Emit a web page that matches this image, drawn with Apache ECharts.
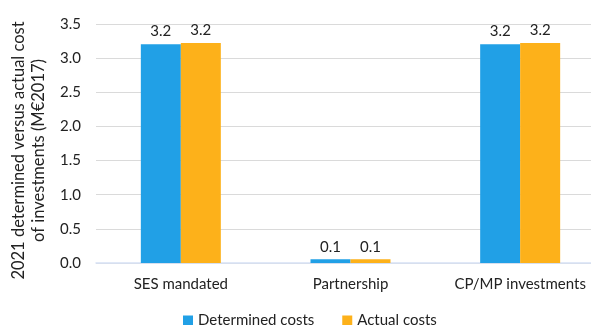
<!DOCTYPE html>
<html><head><meta charset="utf-8">
<script src="https://cdn.jsdelivr.net/npm/echarts@6/dist/echarts.min.js"></script>
<style>html,body{margin:0;padding:0;background:#fff}#c{width:591px;height:325px}</style>
</head><body><div id="c"></div>
<script>
const categories = ["SES mandated", "Partnership", "CP/MP investments"];
const determinedCosts = [3.205, 0.055, 3.205];
const actualCosts = [3.22, 0.055, 3.22];
const seriesNames = ["Determined costs", "Actual costs"];
const yTitle = "2021 determined versus actual cost\nof investments (M€2017)";

const font = "Lato, 'Open Sans', sans-serif";
const chart = echarts.init(document.getElementById('c'));
const lbl = {show: true, position: 'top', distance: 5, color: '#222', fontSize: 15, fontFamily: font,
  formatter: p => p.value.toFixed(1)};
chart.setOption({
  animation: false,
  textStyle: {fontFamily: font},
  grid: {left: 96, top: 24, width: 509, bottom: 62, outerBoundsMode: 'none', containLabel: false},
  legend: {bottom: -8, left: 178, itemWidth: 10, itemHeight: 10, itemGap: 28, icon: 'rect',
    textStyle: {fontSize: 15, color: '#222', fontFamily: font}, data: seriesNames},
  xAxis: {type: 'category', data: categories,
    axisLine: {lineStyle: {color: '#D6E1F5', width: 1.5}}, axisTick: {show: false},
    axisLabel: {color: '#222', fontSize: 15, margin: 14, interval: 0, fontFamily: font}},
  yAxis: {type: 'value', min: 0, max: 3.5, interval: 0.5,
    name: yTitle, nameLocation: 'middle', nameGap: 28, nameRotate: 90,
    nameTextStyle: {fontSize: 16.5, color: '#222', lineHeight: 20, fontFamily: font, padding: [0, 14, 0, 0]},
    axisLabel: {color: '#222', fontSize: 15, margin: 15, formatter: v => v.toFixed(1), fontFamily: font},
    splitLine: {lineStyle: {color: '#DADADA'}}},
  series: [
    {name: seriesNames[0], type: 'bar', data: determinedCosts, barWidth: 40, barGap: '0%',
     itemStyle: {color: '#21A0E6'}, label: lbl},
    {name: seriesNames[1], type: 'bar', data: actualCosts, barWidth: 40,
     itemStyle: {color: '#FDB11A'}, label: lbl}
  ]
});
</script></body></html>
